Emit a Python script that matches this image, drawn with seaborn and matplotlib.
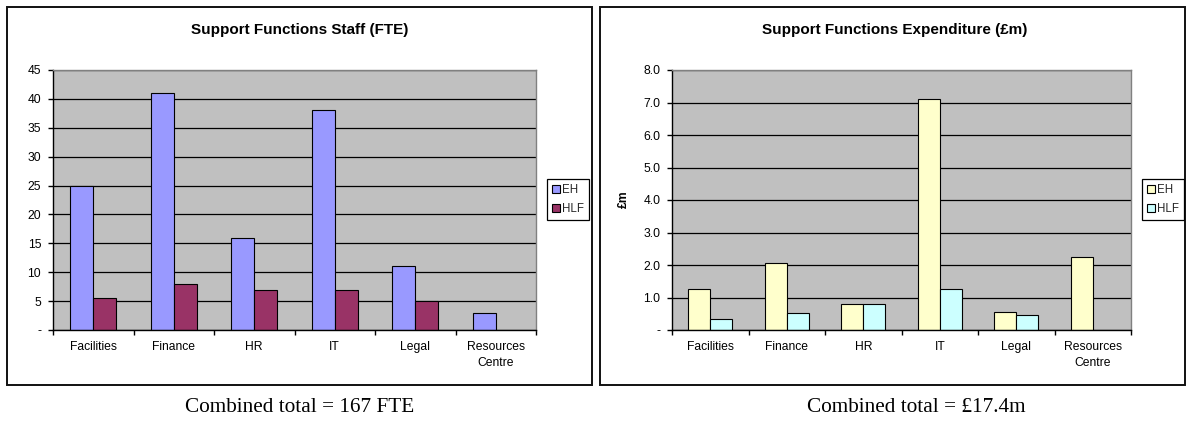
import matplotlib
matplotlib.use("Agg")
import matplotlib.pyplot as plt
from matplotlib.patches import Rectangle, Patch
from matplotlib.ticker import FixedLocator, FuncFormatter
import numpy as np
import pandas as pd
import seaborn as sns

# Support functions by organisation
functions = ["Facilities", "Finance", "HR", "IT", "Legal", "Resources\nCentre"]
orgs = ["EH", "HLF"]

staff_eh = [25, 41, 16, 38, 11, 3]
staff_hlf = [5.5, 8, 7, 7, 5, np.nan]

spend_eh = [1.25, 2.05, 0.8, 7.1, 0.56, 2.25]
spend_hlf = [0.35, 0.53, 0.8, 1.25, 0.47, np.nan]

staff_ticks = [0, 5, 10, 15, 20, 25, 30, 35, 40, 45]
spend_ticks = [0, 1, 2, 3, 4, 5, 6, 7, 8]

staff_colors = ["#9999FF", "#993366"]
spend_colors = ["#FFFFCC", "#CCFFFF"]

sns.set_theme(style="white")
plt.rcParams["font.family"] = ["Liberation Sans", "DejaVu Sans"]

W, H = 1187, 421
fig = plt.figure(figsize=(W / 100, H / 100), dpi=100)
fig.patch.set_facecolor("white")


def fx(px):
    return px / W


def fy(py):
    return 1 - py / H


def long_frame(eh, hlf, name):
    return pd.DataFrame({
        "Function": functions * 2,
        "Org": ["EH"] * len(functions) + ["HLF"] * len(functions),
        name: list(eh) + list(hlf),
    })


def draw_panel(ax, df, col, colors, ticks, fmt):
    ax.set_facecolor("#C0C0C0")
    sns.barplot(data=df, x="Function", y=col, hue="Org", hue_order=orgs,
                order=functions, palette=colors, saturation=1, width=0.571,
                edgecolor="black", linewidth=0.8, ax=ax, legend=False, errorbar=None)
    ax.set_xlim(-0.5, len(functions) - 0.5)
    ax.set_ylim(ticks[0], ticks[-1])
    ax.yaxis.set_major_locator(FixedLocator(ticks))
    ax.yaxis.set_major_formatter(FuncFormatter(lambda v, p: "-" if v == 0 else fmt.format(v)))
    ax.yaxis.grid(True, color="black", linewidth=0.9)
    ax.set_axisbelow(True)
    ax.set_xlabel("")
    ax.set_ylabel("")
    # category boundary ticks on the x axis, labels centred between them
    ax.xaxis.set_minor_locator(FixedLocator(np.arange(-0.5, len(functions), 1.0)))
    ax.tick_params(axis="x", which="major", length=0, pad=8, labelsize=8.7, colors="black")
    ax.tick_params(axis="x", which="minor", length=3.5, width=1, color="black", direction="out", bottom=True)
    ax.tick_params(axis="y", which="major", length=3.5, width=1, color="black", direction="out",
                   left=True, pad=5, labelsize=8.7, labelcolor="black")
    for s in ("left", "bottom"):
        ax.spines[s].set_color("black")
        ax.spines[s].set_linewidth(1.0)
    for s in ("top", "right"):
        ax.spines[s].set_color("#808080")
        ax.spines[s].set_linewidth(1.0)
    for lab in ax.get_xticklabels():
        lab.set_linespacing(1.4)


def add_legend(colors, x0, y0):
    handles = [Patch(facecolor=c, edgecolor="black", linewidth=0.8) for c in colors]
    leg = fig.legend(handles, orgs, loc="upper left", bbox_to_anchor=(fx(x0), fy(y0)),
                     fontsize=8.3, frameon=True, fancybox=False, handlelength=0.65,
                     handleheight=0.65, handletextpad=0.2, labelspacing=0.6,
                     borderpad=0.45, borderaxespad=0)
    fr = leg.get_frame()
    fr.set_edgecolor("black")
    fr.set_linewidth(0.9)
    fr.set_facecolor("white")
    fr.set_alpha(1)


# chart frames
for x0, x1 in [(7, 592), (600, 1185)]:
    fig.patches.append(Rectangle((fx(x0), fy(385)), fx(x1 - x0), (385 - 7) / H,
                                 transform=fig.transFigure, fill=False,
                                 edgecolor="#111111", linewidth=1.4))

ax1 = fig.add_axes([fx(53), fy(330), fx(536 - 53), 260 / H])
draw_panel(ax1, long_frame(staff_eh, staff_hlf, "FTE"), "FTE", staff_colors, staff_ticks, "{:.0f}")
add_legend(staff_colors, 547, 179)

ax2 = fig.add_axes([fx(672), fy(330), fx(1131 - 672), 260 / H])
draw_panel(ax2, long_frame(spend_eh, spend_hlf, "Spend"), "Spend", spend_colors, spend_ticks, "{:.1f}")
add_legend(spend_colors, 1142, 179)

fig.text(fx(624), fy(199), "£m", rotation=90, ha="center", va="center",
         fontsize=8.7, fontweight="bold", color="black")

fig.text(fx(299.5), fy(30), "Support Functions Staff (FTE)", ha="center", va="center",
         fontsize=11, fontweight="bold", color="black")
fig.text(fx(895), fy(30), "Support Functions Expenditure (£m)", ha="center", va="center",
         fontsize=11, fontweight="bold", color="black")

fig.text(fx(300), fy(408), "Combined total = 167 FTE", ha="center", va="center",
         fontsize=15.3, family="Liberation Serif", color="black")
fig.text(fx(916), fy(408), "Combined total = £17.4m", ha="center", va="center",
         fontsize=15.3, family="Liberation Serif", color="black")

fig.savefig("out.png", dpi=100, facecolor="white")
